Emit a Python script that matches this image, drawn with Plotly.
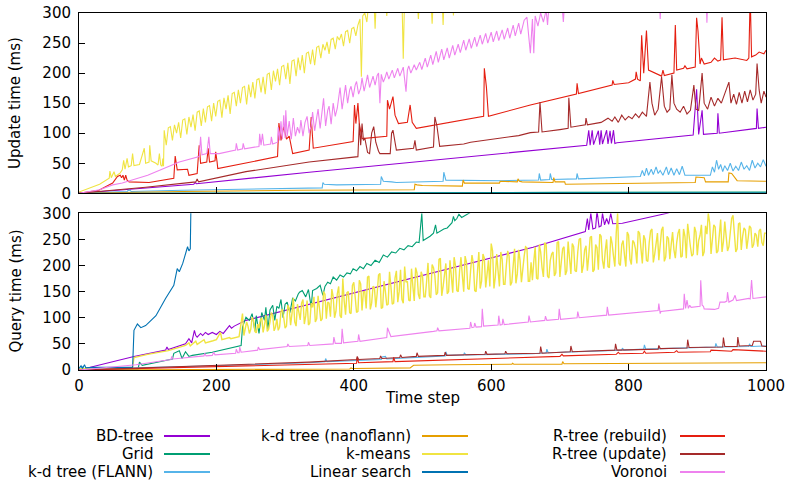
import plotly.graph_objects as go

# ---------------- data (time step, milliseconds) ----------------
SERIES_NAMES = ["BD-tree", "Grid", "k-d tree (FLANN)", "k-d tree (nanoflann)", "k-means",
                "Linear search", "R-tree (rebuild)", "R-tree (update)", "Voronoi"]
COLORS = ["#9400d3", "#009e73", "#56b4e9", "#e69f00", "#f0e442",
          "#0072b2", "#e51e10", "#a52a2a", "#ee82ee"]

X_TICKS = [0, 200, 400, 600, 800, 1000]
Y_TICKS = [0, 50, 100, 150, 200, 250, 300]

# ---- Update time ----
bd_update = [(0,0),(167,15),(169,18),(171,16),(335,35),(661,71),(739,80),(742,105),(744,80),(747,105),
             (749,81),(756,104),(758,81),(760,105),(762,82),(768,105),(770,82),(773,104),(775,83),(778,105),
             (780,83),(783,84),(894,97),(899,173),(902,98),(907,138),(909,98),(929,100),(930,133),(932,100),
             (986,108),(987,141),(989,108),(1000,110)]
grid_update = [(0,0),(300,1),(700,1.5),(1000,2)]
flann_update = [(0,0),(70,3),(73,6),(76,3),(150,5),(321,8),(354,9),(355,18),(357,15),(375,14),(439,15),
                (440,28),(443,20),(455,19),(462,18),(530,20),(531,35),(534,22),(613,21),(669,22),(670,33),
                (672,22),(685,23),(686,33),(688,23),(724,24),(725,33),(727,24),(817,28),(820,38),(823,29),
                (826,42),(829,30),(833,40),(836,31),(840,44),(843,33),(846,38),(850,30),(855,44),(858,31),
                (862,42),(866,30),(870,41),(874,31),(878,45),(882,30),(885,30),(919,30),(922,44),(925,35),
                (928,55),(931,40),(934,48),(937,36),(940,46),(944,38),(948,50),(952,37),(956,45),(960,38),
                (964,52),(968,40),(972,46),(976,38),(980,55),(984,42),(988,50),(992,44),(996,56),(1000,45)]
nano_update = [(0,0),(150,3),(321,5),(488,6),(489,15),(492,14),(500,13),(540,12),(558,12),(559,22),(561,17),
               (600,17),(612,17),(613,20),(638,19),(639,24),(641,20),(645,19),(690,18),(691,26),(693,19),
               (707,19),(708,15),(897,18),(898,27),(910,26),(912,19),(945,19),(946,34),(950,33),(958,21),
               (1000,20)]
kmeans_update = [(0,2),(15,8),(30,15),(44,25),(45,37),(47,26),(51,36),(53,28),(60,34),(63,39),(65,55),(67,40),
                 (70,58),(72,44),(76,46),(78,66),(80,46),(88,48),(95,75),(97,50),(102,52),(103,80),(105,54),
                 (112,50),(115,47),(117,66),(119,47),(121,45),(122,58),(123,45),
                 (124,105),(127,80),(130,109),(133,111),(136,88),(139,114),(142,100),(145,118),(148,92),
                 (151,122),(154,124),(157,98),(160,127),(163,110),(166,131),(169,104),(172,135),(175,137),
                 (178,112),(181,141),(184,118),(187,144),(190,146),(193,120),(196,150),(199,128),(202,153),
                 (205,155),(208,126),(211,159),(214,140),(217,163),(220,132),(223,166),(226,168),(229,145),
                 (232,172),(235,150),(238,176),(241,178),(244,148),(247,181),(250,160),(253,185),(256,158),
                 (259,189),(262,191),(265,168),(268,194),(271,165),(274,198),(277,200),(280,172),(283,204),
                 (286,186),(289,207),(292,180),(295,211),(298,213),(301,190),(304,217),(307,182),(310,220),
                 (313,222),(316,195),(319,226),(322,205),(325,230),(328,200),(331,233),(334,235),(337,215),
                 (340,239),(343,213),(346,243),(349,245),(352,225),(355,248),(358,238),(361,252),(364,232),
                 (367,256),(370,258),(373,240),(376,261),(379,255),(382,265),(385,245),(388,269),(391,271),
                 (394,250),(397,274),(400,276),(403,262),(406,280),(409,290),(411,194),(413,295),(416,300),
                 (419,285),(422,320),(429,330),(431,274),(433,330),(446,330),(448,295),(450,330),(470,330),
                 (472,224),(474,330),(492,330),(494,290),(496,330),(512,330),(514,282),(516,330),(528,335),
                 (530,280),(532,340),(543,340),(545,296),(547,340),(600,380),(1000,600)]
linear_update = [(0,0),(1000,0.5)]
rebuild_update = [(0,0),(29,5),(49,17),(56,28),(60,30),(62,26),(64,30),(66,22),(68,30),(70,22),(73,19),
                  (97,19),(102,18),(138,25),(140,62),(143,39),(158,40),(160,30),(172,33),(174,65),(175,80),
                  (177,50),(186,52),(188,75),(190,52),(198,54),(199,69),(201,52),(202,41),(289,61),(291,117),
                  (294,88),(298,111),(302,90),(306,95),(311,66),(335,72),(338,127),(341,75),(399,86),
                  (401,147),(403,116),(406,150),(408,116),(412,91),(448,95),(449,155),(452,140),(457,161),
                  (460,130),(465,116),(478,118),(482,147),(485,118),(491,108),(589,128),(590,208),(593,177),
                  (596,128),(657,147),(724,165),(725,183),(727,166),(776,180),(777,188),(779,181),(800,184),
                  (810,190),(811,202),(813,190),(817,187),(819,263),(822,200),(826,271),(829,205),(848,195),
                  (850,205),(852,196),(866,200),(868,280),(870,205),(880,208),(882,212),(885,207),(897,210),
                  (899,292),(901,270),(904,215),(906,225),(910,215),(920,218),(925,225),(930,220),(934,222),
                  (936,293),(938,222),(955,225),(972,221),(975,225),(977,330),(979,227),(985,230),(990,235),
                  (997,232),(1000,238)]
rupdate_update = [(0,0),(97,10),(170,19),(172,24),(174,19),(243,36),(335,52),(406,61),(408,116),(410,80),
                  (412,116),(414,88),(416,92),(420,68),(423,66),(426,100),(429,111),(432,85),(436,70),
                  (438,66),(453,66),(455,100),(457,105),(459,90),(462,72),(487,75),(489,88),(491,72),
                  (516,77),(518,127),(521,112),(525,78),(560,82),(570,85),(600,90),(640,96),(657,101),
                  (669,102),(671,152),(674,102),(700,106),(712,108),(713,159),(716,110),(737,114),(738,125),
                  (740,114),(760,118),(770,125),(776,120),(780,127),(785,118),(790,130),(795,122),(800,128),
                  (805,124),(810,132),(815,126),(820,135),(826,128),(831,185),(834,150),(838,130),(843,140),
                  (848,194),(852,145),(856,135),(860,140),(863,197),(866,150),(870,140),(875,135),(880,145),
                  (885,132),(890,138),(895,180),(898,140),(902,138),(907,200),(910,150),(915,140),(920,160),
                  (925,145),(930,158),(935,150),(940,165),(946,185),(949,150),(953,165),(957,148),(961,168),
                  (965,150),(969,170),(973,152),(977,172),(981,155),(985,165),(987,216),(990,172),(993,150),
                  (997,170),(1000,160)]
voronoi_update = [(0,0),(30,6),(49,14),(63,17),(100,30),(146,52),(175,61),(177,94),(179,64),(186,66),
                  (189,94),(191,66),(204,66),(228,72),(229,83),(231,72),(238,74),(239,83),(241,74),(262,78),
                  (263,99),(265,80),(267,99),(269,80),(279,82),(280,94),(282,82),(289,85),(290,110),(292,88),
                  (294,120),(296,90),(298,130),(300,92),(301,138),(303,95),(306,120),(309,90),(312,125),
                  (315,95),(318,110),(321,100),(323,122),(326,95),(329,118),(332,128),(335,100),(338,112),
                  (340,135),(343,104),(346,126),(348,140),(351,108),(353,130),(356,158),(359,112),(362,138),
                  (364,145),(367,115),(370,150),(373,128),(376,142),(380,176),(383,140),(386,165),(388,180),
                  (391,150),(394,172),(396,178),(399,160),(402,180),(404,186),(407,165),(410,175),(412,192),
                  (415,170),(418,185),(420,197),(423,176),(426,190),(428,195),(431,180),(434,196),(436,200),
                  (438,150),(440,198),(443,185),(446,194),(448,202),(451,190),(454,200),(456,205),(459,192),
                  (462,204),(464,208),(467,195),(470,206),(472,210),(476,169),(478,205),(480,212),(483,200),
                  (486,208),(488,214),(491,205),(494,212),(496,218),(499,206),(502,216),(504,225),(507,210),
                  (510,222),(512,230),(515,214),(518,226),(520,236),(523,218),(526,232),(528,240),(531,222),
                  (534,236),(536,242),(539,225),(542,238),(544,246),(547,230),(550,242),(552,248),(555,234),
                  (558,246),(560,255),(563,238),(566,250),(568,257),(571,241),(574,252),(576,260),(579,244),
                  (582,256),(584,263),(587,248),(590,258),(592,266),(595,250),(598,262),(600,268),(603,252),
                  (606,264),(608,270),(611,254),(614,266),(616,272),(619,256),(622,268),(624,275),(627,258),
                  (630,272),(632,280),(635,262),(638,276),(640,283),(643,265),(646,280),(648,288),(652,293),
                  (654,270),(657,233),(660,290),(662,233),(664,295),(668,278),(672,300),(676,285),(680,305),
                  (682,280),(684,310),(703,315),(705,285),(707,320),(844,345),(846,290),(848,345),(912,360),
                  (914,284),(916,360),(1000,400)]

# ---- Query time ----
bd_query = [(0,0),(80,26),(126,38),(128,44),(130,39),(155,50),(160,60),(164,52),(168,76),(170,66),(172,63),
            (177,70),(180,66),(184,72),(188,68),(194,72),(200,68),(205,74),(210,70),(214,76),(219,85),
            (222,80),(226,84),(243,95),(291,111),(335,126),(661,235),(737,265),(740,290),(742,268),(745,300),
            (748,270),(752,272),(754,305),(757,274),(760,276),(762,300),(765,278),(768,290),(771,279),
            (774,300),(777,280),(791,281),(856,300),(900,320)]
grid_query = [(0,1),(86,2),(88,15),(92,9),(136,21),(138,32),(146,37),(150,22),(155,35),(160,26),(165,28),
              (194,34),(236,47),(238,82),(243,101),(248,95),(252,108),(256,75),(258,104),(262,70),(266,110),
              (270,95),(272,120),(275,78),(278,115),(282,124),(285,95),(288,122),(291,118),(294,135),
              (297,100),(300,126),(303,130),(307,110),(311,138),(315,132),(319,145),(321,149),(325,152),
              (330,140),(334,154),(338,120),(340,152),(346,156),(351,162),(355,143),(358,160),(362,168),
              (366,165),(370,178),(375,172),(380,182),(385,178),(390,186),(395,184),(399,194),(404,190),
              (409,198),(414,194),(419,204),(425,200),(431,210),(437,206),(443,220),(449,216),(455,226),
              (461,224),(467,233),(473,230),(479,238),(485,236),(491,245),(495,244),(499,300),(501,248),
              (506,252),(511,256),(516,262),(519,278),(521,262),(526,266),(531,270),(536,272),(540,278),
              (543,282),(545,294),(547,286),(550,290),(553,298),(557,292),(564,298),(574,305),(600,340)]
flann_query = [(0,0),(5,6),(8,2),(200,8),(335,14),(358,16),(359,22),(361,16),(440,20),(441,25),(446,26),
               (448,21),(533,27),(534,35),(536,28),(560,29),(561,33),(563,29),(660,31),(680,33),(681,40),
               (683,33),(790,38),(791,42),(793,38),(822,40),(823,48),(825,40),(926,44),(927,51),(929,44),
               (975,45),(976,50),(978,45),(1000,46)]
nano_query = [(0,0),(394,2),(396,4),(398,3),(482,4),(487,9),(540,10),(630,11),(631,13),(633,11),(703,11),
              (704,16),(706,12),(1000,14)]
kmeans_query_head = [(0,2),(20,4),(40,4),(60,5),(78,5),(80,24),(100,30),(130,37),(155,47),(160,52),(162,46),
                     (170,55),(172,49),(182,58),(184,52),(195,56),(200,58),(206,72),(208,58),(219,62),
                     (221,60),(233,64),(238,108),(240,66)]
# noisy band, sampled every 4 steps starting at t=244 (list a) and at t=246 (list b)
kmeans_query_band_a = [92,70,101,74,88,96,72,105,78,110,75,98,82,
                       116,80,124,86,138,84,110,128,88,133,90,120,92,
                       142,94,150,98,128,155,100,146,104,175,106,150,108,
                       168,110,172,114,150,178,116,160,120,182,118,170,124,
                       188,126,176,130,192,128,168,134,194,132,186,136,180,
                       140,205,138,196,144,212,142,188,146,210,148,200,150,
                       216,150,206,154,220,152,198,156,222,158,210,242,156,
                       222,160,212,164,228,162,204,166,230,168,218,234,170,
                       172,236,174,226,178,240,176,222,180,244,178,232,182,
                       246,184,236,188,250,186,230,190,254,188,240,192,256,
                       194,250,196,242,198,300,200,248,198,258,202,244,204,
                       262,204,250,208,266,206,246,210,268,208,256,212,264,
                       214,262,216,270,214,252,218,274,220,258,218,276,300,
                       222,278,224,266,226,284,228,270,296,226,280,230,272,
                       232,276,234,262,236,270,238,262]
kmeans_query_band_b = [84,78,96,71,80,100,86,74,92,104,82,76,112,
                       100,84,118,108,92,126,96,135,104,86,128,140,98,
                       120,98,145,130,102,140,112,160,100,132,148,110,162,
                       140,112,165,150,118,180,128,158,146,185,120,150,126,
                       160,128,190,150,135,198,170,132,160,196,145,188,140,
                       170,142,202,180,148,214,160,204,150,176,216,152,190,
                       180,218,156,190,204,150,226,170,214,190,160,228,178,
                       190,226,164,200,218,168,232,184,210,196,236,170,206,
                       208,176,240,196,244,180,210,226,186,246,206,236,190,
                       214,242,190,226,252,200,238,218,256,192,234,260,210,
                       228,198,256,218,262,204,240,220,264,212,248,232,266,
                       232,258,210,244,270,222,262,238,274,216,252,240,230,
                       244,270,218,256,280,236,222,264,248,278,226,260,282,
                       250,274,228,288,246,262,236,290,252,232,282,256,268,
                       252,272,240,258,266,244,262]
linear_query = [(0,3),(3,8),(5,3),(8,10),(10,4),(20,5),(78,5),(80,76),(85,88),(90,81),(97,85),(112,104),
                (126,137),(138,162),(143,194),(146,188),(151,204),(158,236),(160,228),(162,232),(163,320)]
rebuild_query = [(0,0),(335,10),(404,13),(405,24),(407,14),(457,16),(458,24),(460,16),(661,24),(700,26),
                 (703,30),(705,27),(782,30),(785,34),(787,31),(821,32),(823,36),(825,32),(867,34),(870,37),
                 (872,34),(919,35),(920,38),(950,36),(952,39),(1000,36)]
rupdate_query = [(0,0),(335,15),(404,20),(405,26),(407,20),(438,22),(439,27),(441,22),(467,24),(468,29),
                 (470,24),(491,26),(492,33),(494,26),(532,28),(533,34),(535,28),(591,30),(592,36),(594,30),
                 (620,31),(621,36),(623,31),(671,32),(672,45),(674,32),(715,35),(716,46),(718,35),(780,38),
                 (781,50),(783,38),(843,40),(844,47),(846,41),(885,42),(886,58),(888,43),(937,44),(938,62),
                 (940,45),(958,45),(959,63),(961,46),(980,47),(982,55),(992,55),(994,46),(1000,45)]
voronoi_query = [(0,0),(83,10),(134,20),(135,26),(137,21),(182,27),(183,32),(185,27),(194,28),(196,34),
                 (198,29),(228,32),(229,40),(231,33),(233,33),(234,44),(236,34),(260,38),(261,44),(263,39),
                 (303,45),(304,50),(306,45),(333,47),(334,53),(336,47),(370,50),(371,63),(373,51),(382,51),
                 (383,79),(385,52),(406,55),(407,68),(409,55),(448,62),(449,81),(452,72),(454,64),(516,74),
                 (521,75),(522,81),(524,75),(569,80),(570,92),(572,81),(575,82),(576,90),(578,82),(586,83),
                 (587,117),(589,84),(610,86),(611,104),(613,86),(616,87),(617,98),(619,87),(654,92),(655,104),
                 (657,92),(678,95),(679,103),(681,95),(698,97),(699,117),(701,97),(725,100),(726,112),(728,100),
                 (768,105),(769,121),(771,105),(843,114),(844,127),(846,108),(847,112),(880,117),(881,146),
                 (883,118),(885,134),(887,118),(889,124),(891,120),(904,122),(905,172),(907,124),(909,122),
                 (910,117),(925,116),(931,118),(933,130),(940,130),(943,132),(944,149),(946,130),(952,134),
                 (955,143),(957,133),(975,137),(977,136),(979,172),(981,137),(1000,140)]

kmeans_query = sorted(kmeans_query_head
                      + [(244 + 4 * i, v) for i, v in enumerate(kmeans_query_band_a)]
                      + [(246 + 4 * i, v) for i, v in enumerate(kmeans_query_band_b)])

UPDATE = [bd_update, grid_update, flann_update, nano_update, kmeans_update,
          linear_update, rebuild_update, rupdate_update, voronoi_update]
QUERY = [bd_query, grid_query, flann_query, nano_query, kmeans_query,
         linear_query, rebuild_query, rupdate_query, voronoi_query]

# ---------------- figure ----------------
W, H = 785, 480
L, R, T, B = 79, 19, 13, 110
PW, PH = W - L - R, H - T - B


def px_x(p):
    return (p - L) / PW


def px_y(p):
    return (H - B - p) / PH


fig = go.Figure()
for panel, (data_sets, xa, ya) in enumerate([(UPDATE, "x", "y"), (QUERY, "x2", "y2")]):
    for name, color, pts in zip(SERIES_NAMES, COLORS, data_sets):
        width = 1.4 if (panel == 1 and name == "k-means") else 1.1
        fig.add_trace(go.Scatter(
            x=[p[0] for p in pts], y=[p[1] for p in pts], mode="lines", name=name,
            line=dict(color=color, width=width), xaxis=xa, yaxis=ya, showlegend=False,
            hoverinfo="skip"))

font = dict(family="DejaVu Sans", size=15, color="#000000")
axis_common = dict(showline=True, linecolor="#000000", linewidth=1, mirror=True, showgrid=False,
                   zeroline=False, ticks="inside", ticklen=6, tickcolor="#000000", tickfont=font,
                   ticklabeloverflow="allow")

top_dom = [px_y(193.3), 1.0]
bot_dom = [0.0, px_y(213.3)]

fig.update_layout(
    width=W, height=H, margin=dict(l=L, r=R, t=T, b=B, autoexpand=False),
    paper_bgcolor="#ffffff", plot_bgcolor="#ffffff", showlegend=False, font=font,
    xaxis=dict(range=[0, 1000], domain=[0, 1], anchor="y", tickvals=X_TICKS, showticklabels=False,
               **axis_common),
    yaxis=dict(range=[0, 300], domain=top_dom, anchor="x", tickvals=Y_TICKS, ticklabelstandoff=4,
               **axis_common),
    xaxis2=dict(range=[0, 1000], domain=[0, 1], anchor="y2", tickvals=X_TICKS, ticklabelstandoff=2,
                **axis_common),
    yaxis2=dict(range=[0, 300], domain=bot_dom, anchor="x2", tickvals=Y_TICKS, ticklabelstandoff=4,
                **axis_common),
)

annotations = [
    dict(text="Update time (ms)", x=px_x(15), y=px_y(103), textangle=-90),
    dict(text="Query time (ms)", x=px_x(15), y=px_y(291.5), textangle=-90),
    dict(text="Time step", x=px_x(422.5), y=px_y(398)),
]
for a in annotations:
    a.update(xref="paper", yref="paper", showarrow=False, font=font, xanchor="center", yanchor="middle")

# gnuplot-style key: label right-aligned, line sample to its right
col_text_right = [155, 413, 669]
col_line = [(164, 210), (422, 468), (680, 725)]
rows = [436, 454, 472]
shapes = []
for i, (name, color) in enumerate(zip(SERIES_NAMES, COLORS)):
    c, r = divmod(i, 3)
    annotations.append(dict(text=name, x=px_x(col_text_right[c]), y=px_y(rows[r]), xref="paper",
                            yref="paper", showarrow=False, font=font, xanchor="right", yanchor="middle"))
    shapes.append(dict(type="line", xref="paper", yref="paper", x0=px_x(col_line[c][0]),
                       x1=px_x(col_line[c][1]), y0=px_y(rows[r]), y1=px_y(rows[r]),
                       line=dict(color=color, width=2)))

fig.update_layout(annotations=annotations, shapes=shapes)
fig.write_html("out.html", config={"displayModeBar": False},
               post_script="document.body.style.margin='0';document.body.style.overflow='hidden';")
